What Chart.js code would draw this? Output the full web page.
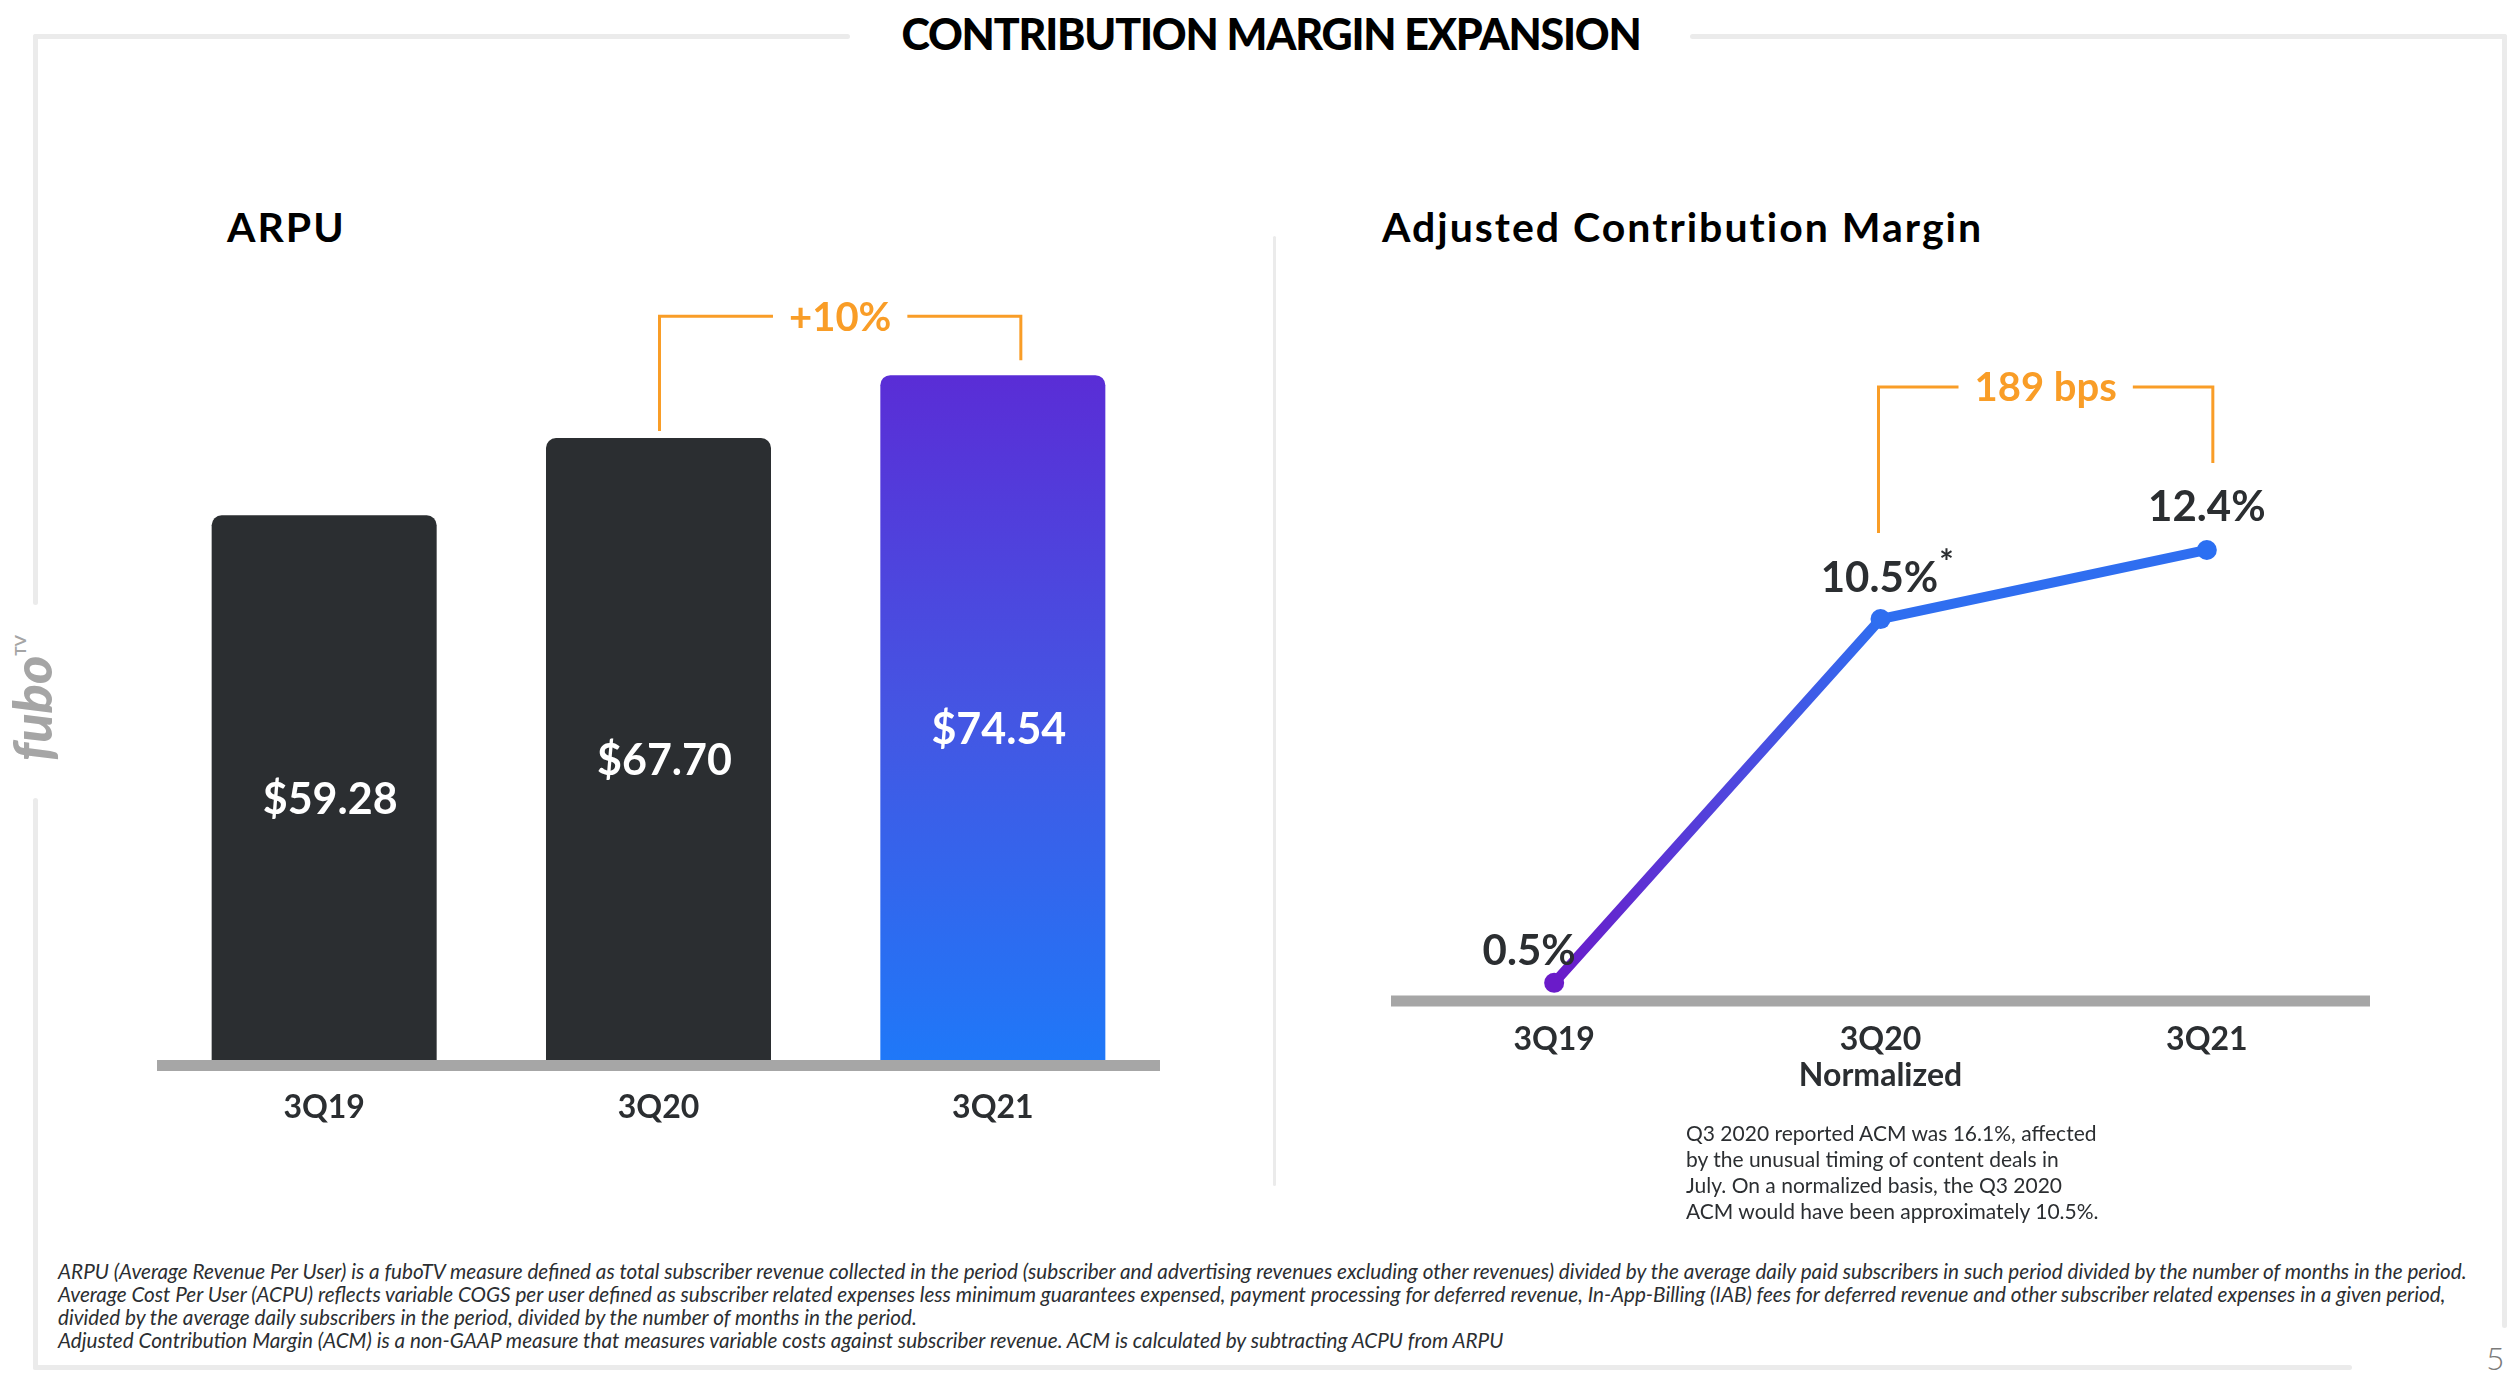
<!DOCTYPE html>
<html>
<head>
<meta charset="utf-8">
<script src="https://cdn.jsdelivr.net/npm/chart.js@4.4.1/dist/chart.umd.min.js"></script>
<style>
    body { margin: 0; width: 2520px; height: 1376px; background: #fff; position: relative; overflow: hidden; font-family: 'Lato', sans-serif; color: #2b2e31; }
    .abs { position: absolute; }
    .frame { position: absolute; background: #ebebeb; border-radius: 3px; }
    .title { left: 1271px; top: 12px; transform: translateX(-50%); font-size: 43px; font-weight: 900; color: #000; line-height: 1; white-space: nowrap; letter-spacing: -1.2px; }
    .subtitle { top: 206px; font-size: 41px; font-weight: 700; color: #000; line-height: 1; white-space: nowrap; letter-spacing: 2px; }
    .note { left: 1686px; top: 1120px; font-size: 21px; line-height: 26px; color: #2b2e31; white-space: nowrap; }
    .foot { left: 58px; top: 1260px; font-size: 18px; line-height: 23px; font-style: italic; color: #2b2e31; white-space: nowrap; }
    .page { left: 2486px; top: 1342px; font-size: 32px; line-height: 32px; font-weight: 300; color: #7a7a7a; }
    .logo { left: 32px; top: 698px; transform: translate(-50%, -50%) rotate(-90deg); font-size: 54px; font-weight: 900; font-style: italic; color: #a5a5a5; line-height: 1; white-space: nowrap; }
    .logo sup { font-size: 16px; font-style: normal; font-weight: 700; vertical-align: 26px; }
    canvas { position: absolute; }
</style>
</head>
<body>
<!-- frame -->
<div class="frame" style="left:33px; top:34px; width:817px; height:5px;"></div>
<div class="frame" style="left:1690px; top:34px; width:817px; height:5px;"></div>
<div class="frame" style="left:33px; top:34px; width:5px; height:571px;"></div>
<div class="frame" style="left:33px; top:798px; width:5px; height:572px;"></div>
<div class="frame" style="left:2502px; top:34px; width:5px; height:1294px;"></div>
<div class="frame" style="left:33px; top:1365px; width:2319px; height:5px;"></div>
<div class="frame" style="left:1273px; top:236px; width:3px; height:950px;"></div>

<div class="abs title">CONTRIBUTION MARGIN EXPANSION</div>
<div class="abs subtitle" style="left:227px;">ARPU</div>
<div class="abs subtitle" style="left:1382px;">Adjusted Contribution Margin</div>
<div class="abs logo">fubo<sup>TV</sup></div>

<canvas id="arpu_graph" width="1003" height="960" style="left:157px; top:180px; width:1003px; height:960px;"></canvas>
<canvas id="acm_graph" width="999" height="840" style="left:1381px; top:300px; width:999px; height:840px;"></canvas>

<div class="abs note">Q3 2020 reported ACM was 16.1%, affected<br>by the unusual timing of content deals in<br>July. On a normalized basis, the Q3 2020<br>ACM would have been approximately 10.5%.</div>

<div class="abs foot" id="foot">ARPU (Average Revenue Per User) is a fuboTV measure defined as total subscriber revenue collected in the period (subscriber and advertising revenues excluding other revenues) divided by the average daily paid subscribers in such period divided by the number of months in the period.<br>Average Cost Per User (ACPU) reflects variable COGS per user defined as subscriber related expenses less minimum guarantees expensed, payment processing for deferred revenue, In-App-Billing (IAB) fees for deferred revenue and other subscriber related expenses in a given period,<br>divided by the average daily subscribers in the period, divided by the number of months in the period.<br>Adjusted Contribution Margin (ACM) is a non-GAAP measure that measures variable costs against subscriber revenue. ACM is calculated by subtracting ACPU from ARPU</div>
<div class="abs page">5</div>

<script>
const arpuLabels = ['3Q19', '3Q20', '3Q21'];
const arpuValues = [59.28, 67.70, 74.54];
const arpuText = ['$59.28', '$67.70', '$74.54'];
const arpuChange = '+10%';

const acmLabels = ['3Q19', ['3Q20', 'Normalized'], '3Q21'];
const acmValues = [0.5, 10.5, 12.4];
const acmText = ['0.5%', '10.5%', '12.4%'];
const acmChange = '189 bps';

const orange = '#f99d27';
Chart.defaults.font.family = 'Lato';
Chart.defaults.color = '#2b2e31';

// 幅を合わせる
const foot = document.getElementById('foot');
foot.style.fontSize = (18 * 2410 / foot.scrollWidth) + 'px';

// 文字の縦中心を大文字の中心に合わせる
function centerText(ctx, text, x, cy) {
    const h = ctx.measureText('0').actualBoundingBoxAscent;
    ctx.textBaseline = 'alphabetic';
    ctx.fillText(text, x, cy + h / 2);
}

function drawBracket(ctx, x1, y1, x2, y2, top, text) {
    ctx.save();
    ctx.font = 'bold 40px Lato';
    ctx.strokeStyle = orange;
    ctx.fillStyle = orange;
    ctx.lineWidth = 3;
    const w = ctx.measureText(text).width;
    const mid = (x1 + x2) / 2;
    ctx.beginPath();
    ctx.moveTo(x1, y1);
    ctx.lineTo(x1, top);
    ctx.lineTo(mid - w / 2 - 16, top);
    ctx.moveTo(mid + w / 2 + 16, top);
    ctx.lineTo(x2, top);
    ctx.lineTo(x2, y2);
    ctx.stroke();
    ctx.textAlign = 'center';
    centerText(ctx, text, mid, top);
    ctx.restore();
}

const axisBar = {
    id: 'axisBar',
    beforeDatasetsDraw(chart, args, opts) {
        const ctx = chart.ctx;
        const a = chart.chartArea;
        const y = chart.scales.y.getPixelForValue(0);
        ctx.save();
        ctx.fillStyle = '#a6a6a6';
        ctx.fillRect(a.left - opts.extend, y + opts.shift, a.right - a.left + opts.extend * 2, 11);
        ctx.restore();
    }
};

const barText = {
    id: 'barText',
    afterDatasetsDraw(chart) {
        const ctx = chart.ctx;
        const bars = chart.getDatasetMeta(0).data;
        ctx.save();
        ctx.font = 'bold 43px Lato';
        ctx.fillStyle = '#fff';
        ctx.textAlign = 'center';
        bars.forEach(function (bar, i) {
            centerText(ctx, arpuText[i], bar.x + 6, (bar.y + bar.base) / 2 + 10);
        });
        ctx.restore();
        drawBracket(ctx, bars[1].x + 1, bars[1].y - 7, bars[2].x + 28, bars[2].y - 15, bars[2].y - 59, arpuChange);
    }
};

const labelShift = [[-25, -33], [-1, -43], [0, -44]];
const pointText = {
    id: 'pointText',
    afterDatasetsDraw(chart) {
        const ctx = chart.ctx;
        const pts = chart.getDatasetMeta(0).data;
        ctx.save();
        ctx.font = 'bold 42px Lato';
        ctx.fillStyle = '#2b2e31';
        ctx.textAlign = 'center';
        pts.forEach(function (pt, i) {
            centerText(ctx, acmText[i], pt.x + labelShift[i][0], pt.y + labelShift[i][1]);
        });
        // 10.5% の注記
        const w = ctx.measureText(acmText[1]).width;
        ctx.font = 'bold 34px Lato';
        ctx.textAlign = 'left';
        centerText(ctx, '*', pts[1].x - 1 + w / 2 + 1, pts[1].y - 58);
        ctx.restore();
        drawBracket(ctx, pts[1].x - 2, pts[1].y - 86, pts[2].x + 6, pts[2].y - 87, pts[2].y - 163, acmChange);
    }
};

const arpuGraph = document.getElementById('arpu_graph');
new Chart(arpuGraph, {
    type: 'bar',
    data: {
        labels: arpuLabels,
        datasets: [{
            data: arpuValues,
            backgroundColor: function (context) {
                if (context.dataIndex < 2) return '#2b2e31';
                const chart = context.chart;
                if (!chart.chartArea) return '#4a4fe0';
                const y = chart.scales.y;
                const g = chart.ctx.createLinearGradient(0, y.getPixelForValue(arpuValues[2]), 0, y.getPixelForValue(0));
                g.addColorStop(0, '#5a2dd6');
                g.addColorStop(0.5, '#4456e3');
                g.addColorStop(1, '#1f78f8');
                return g;
            },
            borderRadius: { topLeft: 10, topRight: 10 },
            borderSkipped: 'bottom',
            categoryPercentage: 1,
            barPercentage: 0.673,
        }]
    },
    options: {
        responsive: false,
        animation: false,
        events: [],
        layout: { padding: { top: 145, left: 0, right: 0, bottom: 0 } },
        plugins: { legend: { display: false }, tooltip: { enabled: false }, axisBar: { shift: 0, extend: 0 } },
        scales: {
            y: { display: false, min: 0, max: 80 },
            x: {
                grid: { display: false, drawTicks: false },
                border: { display: false },
                ticks: { padding: 30, color: '#2b2e31', font: { size: 32, weight: 'bold', lineHeight: 1.125 } },
                afterFit: function (scale) { scale.height = 80; }
            }
        }
    },
    plugins: [axisBar, barText]
});

const acmGraph = document.getElementById('acm_graph');
new Chart(acmGraph, {
    type: 'line',
    data: {
        labels: acmLabels,
        datasets: [{
            data: acmValues,
            borderColor: function (context) {
                const chart = context.chart;
                if (!chart.chartArea) return '#2f6ef0';
                const x = chart.scales.x;
                const g = chart.ctx.createLinearGradient(x.getPixelForValue(0), 0, x.getPixelForValue(1), 0);
                g.addColorStop(0, '#6a1bc9');
                g.addColorStop(0.5, '#5243dc');
                g.addColorStop(1, '#2f6ef0');
                return g;
            },
            borderWidth: 10,
            pointRadius: 10,
            pointBorderWidth: 0,
            pointBackgroundColor: ['#6a1bc9', '#2f6ef0', '#2b6ff2'],
            tension: 0,
            clip: false,
        }]
    },
    options: {
        responsive: false,
        animation: false,
        events: [],
        layout: { padding: { top: 119, left: 10, right: 10, bottom: 0 } },
        plugins: { legend: { display: false }, tooltip: { enabled: false }, axisBar: { shift: -5.5, extend: 0 } },
        scales: {
            y: { display: false, min: 0, max: 16 },
            x: {
                offset: true,
                grid: { display: false, drawTicks: false },
                border: { display: false },
                ticks: { padding: 21, color: '#2b2e31', font: { size: 32, weight: 'bold', lineHeight: 1.125 } },
                afterFit: function (scale) { scale.height = 139; }
            }
        }
    },
    plugins: [axisBar, pointText]
});
</script>
</body>
</html>
